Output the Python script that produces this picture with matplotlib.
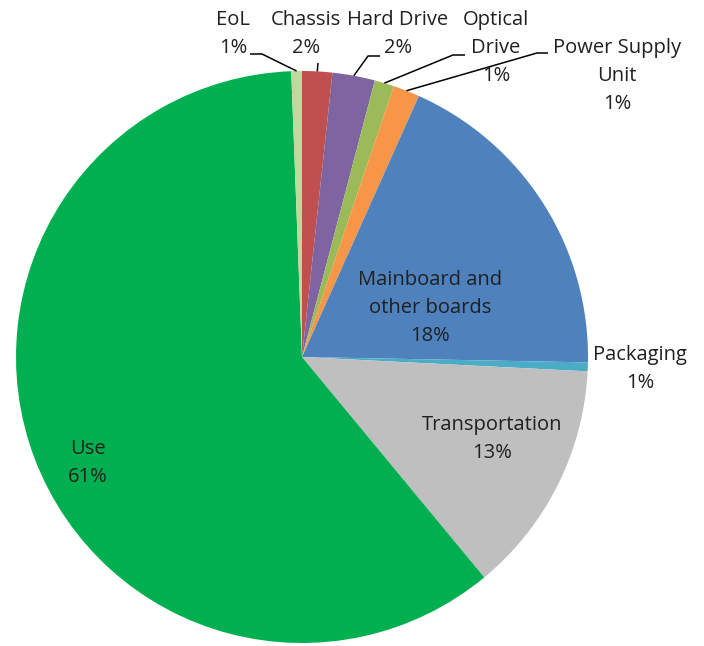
import numpy as np
import matplotlib
matplotlib.use("Agg")
import matplotlib.pyplot as plt

categories = ["Chassis", "Hard Drive", "Optical Drive", "Power Supply Unit",
              "Mainboard and other boards", "Packaging", "Transportation", "Use", "EoL"]
values = [1.7, 2.4, 1.1, 1.5, 18.6, 0.5, 13.2, 60.4, 0.6]
pct_labels = ["2%", "2%", "1%", "1%", "18%", "1%", "13%", "61%", "1%"]
colors = ["#C0504D", "#8064A2", "#9BBB59", "#F79646", "#4F81BD",
          "#4BACC6", "#BFBFBF", "#00B050", "#C3D69B"]

W, H = 704, 646
fig = plt.figure(figsize=(W / 100, H / 100), dpi=100)
ax = fig.add_axes([0, 0, 1, 1])

cx, cy, R = 302, H - 357, 286
wedges, _ = ax.pie(values, colors=colors, startangle=90, counterclock=False,
                   center=(cx, cy), radius=R, frame=True,
                   wedgeprops=dict(linewidth=0))
ax.set_xlim(0, W)
ax.set_ylim(0, H)
ax.set_aspect("equal")
ax.axis("off")

FONT = dict(family="Open Sans", fontsize=14.5, color="#202020", linespacing=1.55)

def py(y):
    return H - y

def edge_point(i, frac=0.5):
    w = wedges[i]
    a = np.deg2rad(w.theta1 + (w.theta2 - w.theta1) * frac)
    return cx + R * np.cos(a), cy + R * np.sin(a)

labels = {
    0: ("Chassis\n2%", 306, 34),
    1: ("Hard Drive\n2%", 398, 34),
    2: ("Optical\nDrive\n1%", 496, 48),
    3: ("Power Supply\nUnit\n1%", 617, 76),
    4: ("Mainboard and\nother boards\n18%", 430, 308),
    5: ("Packaging\n1%", 640, 369),
    6: ("Transportation\n13%", 492, 439),
    7: ("Use\n61%", 88, 463),
    8: ("EoL\n1%", 233, 34),
}
for i, (txt, x, y) in labels.items():
    ax.text(x, py(y), txt, ha="center", va="center", **FONT)

leaders = {
    8: [(250, 54), (262, 54)],
    0: [(318, 63)],
    1: [(380, 56), (368, 56)],
    2: [(465, 55), (453, 55)],
    3: [(548, 53), (537, 53)],
}
for i, pts in leaders.items():
    ex, ey = edge_point(i)
    xs = [p[0] for p in pts] + [ex]
    ys = [py(p[1]) for p in pts] + [ey]
    ax.plot(xs, ys, color="#000000", lw=1.1, solid_capstyle="butt")

fig.savefig("out.png", dpi=100, facecolor="white")
